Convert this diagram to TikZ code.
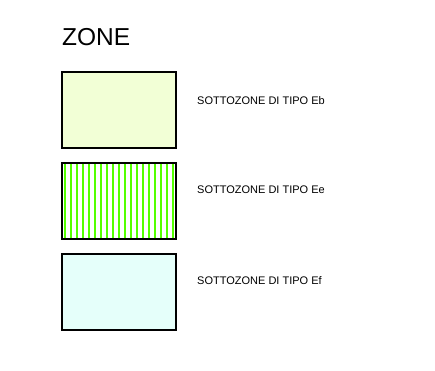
\documentclass[tikz,border=0pt]{standalone}
\usepackage{fontspec}
\setmainfont{Liberation Sans}
\definecolor{zonaEb}{RGB}{242,255,214}
\definecolor{zonaEf}{RGB}{229,255,250}
\definecolor{righe}{RGB}{85,255,0}
\tikzset{
  zonebox/.style={draw=black,line width=2.4pt},
  zonelabel/.style={anchor=west,inner sep=0pt,font=\fontsize{11}{13}\selectfont}
}
\begin{document}
\begin{tikzpicture}[x=1pt,y=-1pt]
  \useasboundingbox (0,0) rectangle (435,370);
  \node[anchor=base west,inner sep=0pt,font=\fontsize{24.5}{28}\selectfont] (titolo) at (62,45) {ZONE};
  % Eb
  \fill[zonaEb] (62,72) rectangle (176,148);
  \draw[zonebox] (62,72) rectangle (176,148);
  \node[zonelabel] (eb) at (197,101) {SOTTOZONE DI TIPO Eb};
  % Ee
  \foreach \x in {65,71,...,173}{
    \draw[righe,line width=2pt] (\x,163) -- (\x,239);
  }
  \draw[zonebox] (62,163) rectangle (176,239);
  \node[zonelabel] (ee) at (197,190) {SOTTOZONE DI TIPO Ee};
  % Ef
  \fill[zonaEf] (62,254) rectangle (176,330);
  \draw[zonebox] (62,254) rectangle (176,330);
  \node[zonelabel] (ef) at (197,281) {SOTTOZONE DI TIPO Ef};
\end{tikzpicture}
\end{document}
